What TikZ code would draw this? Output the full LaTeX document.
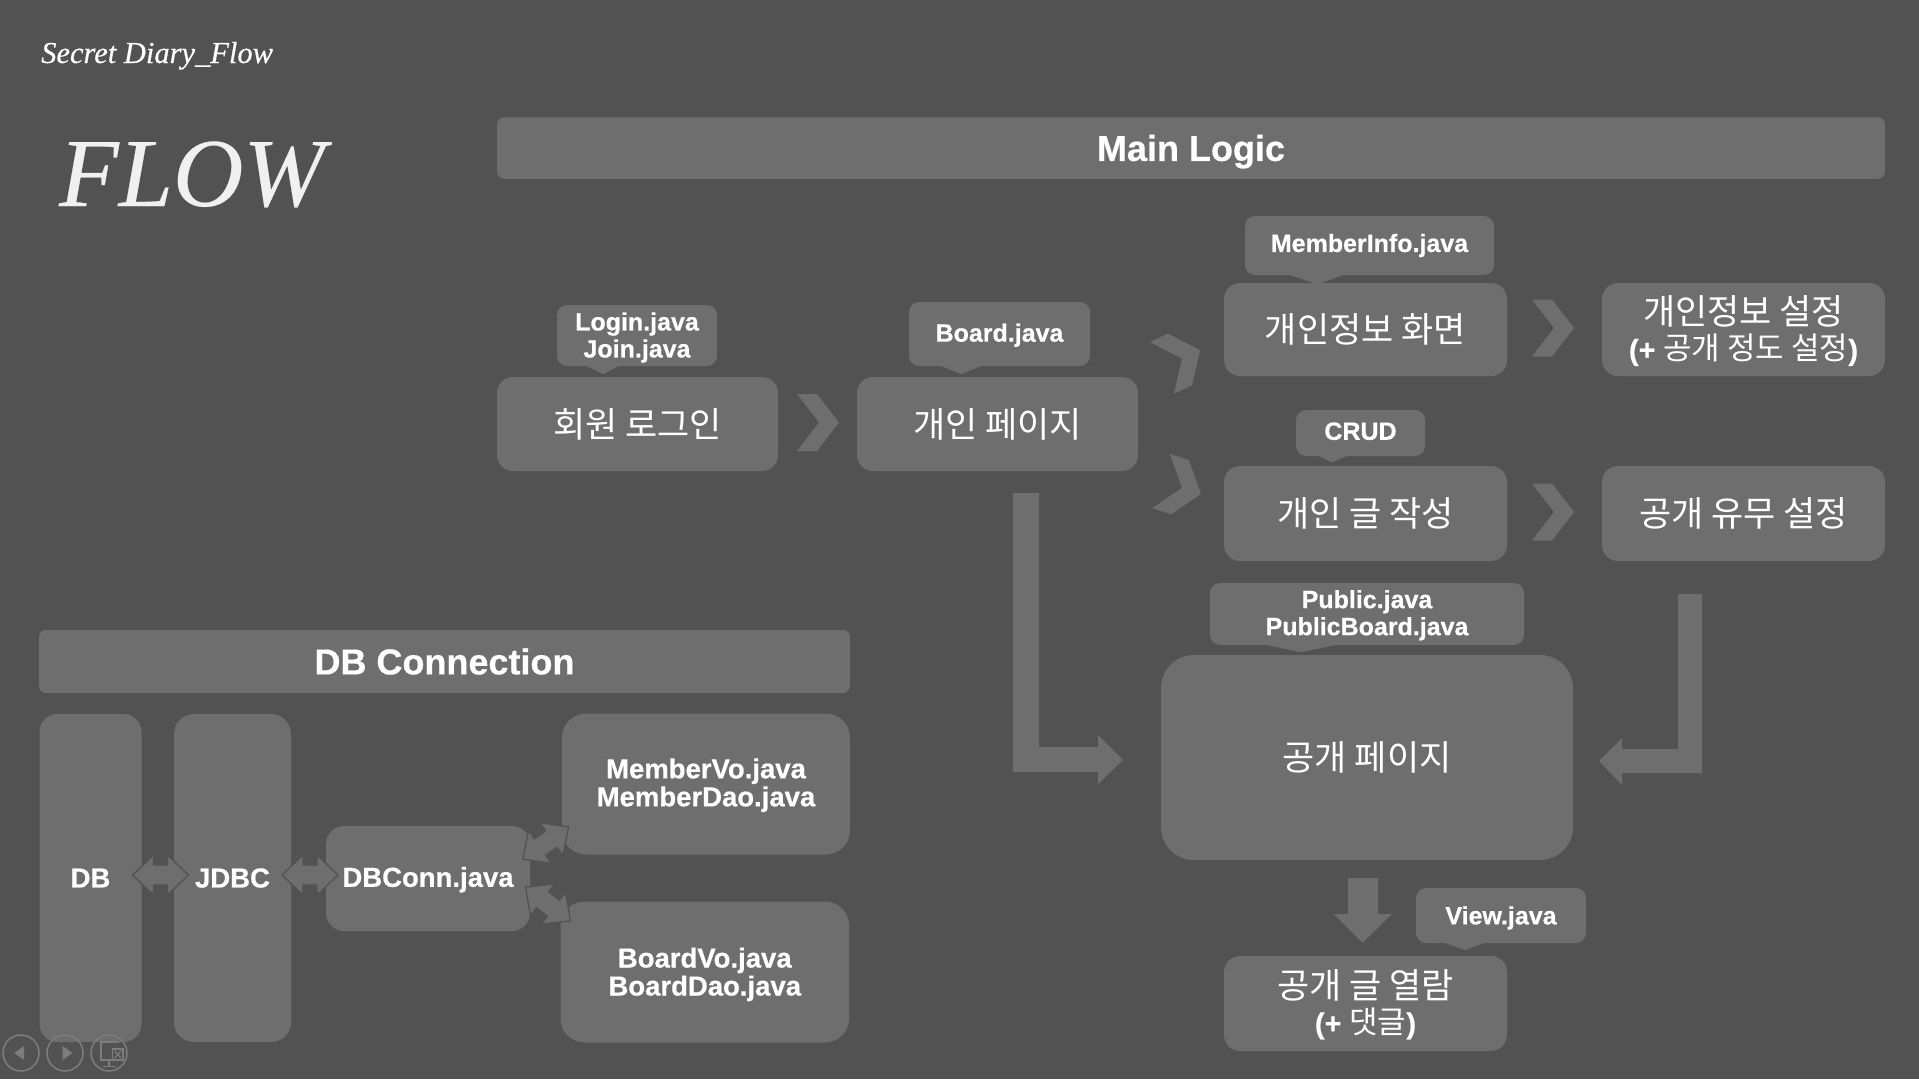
\documentclass[tikz,border=0pt]{standalone}
\usepackage{fontspec}
\setmainfont[BoldFeatures={FakeBold=0.5}]{Liberation Sans}
\newfontfamily\kofont{Noto Sans CJK KR}
\newfontfamily\latinbold[FakeBold=0.5]{Liberation Sans Bold}
\newfontfamily\titlefont[FakeBold=0.3]{Liberation Serif}
\definecolor{slide}{HTML}{525252}
\definecolor{block}{HTML}{6E6E6E}
\definecolor{icon}{HTML}{7D7D7D}
\newcommand{\fsize}[2]{\fontsize{#1pt}{#2pt}\selectfont}
\newcommand{\plus}[1]{{\latinbold\fsize{29}{30}#1}}
\tikzstyle{flowbox}=[fill=block,inner sep=0pt]
\tikzstyle{boxtext}=[inner sep=0pt,align=center,text=white]
\tikzstyle{steptext}=[boxtext,font=\kofont\fsize{35}{38}]
\tikzstyle{notetext}=[boxtext,font=\bfseries\fsize{25}{27}]
\tikzstyle{dbtext}=[boxtext,font=\bfseries\fsize{27.5}{28}]
\tikzstyle{bartext}=[boxtext,font=\bfseries\fsize{36}{40}]
\tikzstyle{linkarrow}=[draw=slide,fill=block,line width=1.3pt,line join=miter]
\tikzstyle{blockshape}=[fill=block]
\tikzstyle{navicon}=[draw=icon,line width=1.5pt]

\begin{document}
\begin{tikzpicture}[x=1pt,y=-1pt]
    \useasboundingbox (0,0) rectangle (1919,1079);
    \fill[slide] (0,0) rectangle (1919,1079);
    % Titles
    \node[inner sep=0pt,anchor=base west,text=white,font=\titlefont\itshape\fsize{30.5}{30}] (slidename) at (41,63) {Secret Diary\_Flow};
    \node[inner sep=0pt,anchor=base west,text=gray!12,font=\titlefont\itshape\fsize{97.5}{98}] (flowname) at (59,206) {FLOW};
    % First we draw the bars and the boxes
    \foreach \pos/\name/\w/\h/\dn/\la in {{(1191,148)/mainbar/1388/61.5/3.7/Main Logic}, {(444.5,661.5)/dbbar/811/63/0/DB Connection}}
          \node[flowbox,rounded corners=7pt,minimum width=\w pt,minimum height=\h pt,label={[bartext,yshift=-\dn pt]center:\la}] (\name) at \pos {};
    \foreach \pos/\name/\w/\h/\dn/\la in {{(637.5,424)/login/281/94/0/회원 로그인}, {(997.5,424)/mypage/281/94/0/개인 페이지},
          {(1365.5,329.5)/info/283/93/0/개인정보 화면}, {(1743.5,329.5)/infoset/283/93/1.5/개인정보 설정\\[-3pt]\plus{(+} {\fsize{31}{30}공개 정도 설정}\plus{)}},
          {(1365.5,513.5)/write/283/95/0/개인 글 작성}, {(1743.5,513.5)/openset/283/95/0/공개 유무 설정},
          {(1365.5,1003.5)/view/283/95/1/공개 글 열람\\[-3pt]\plus{(+} {\fsize{31}{30}댓글}\plus{)}}}
          \node[flowbox,rounded corners=16pt,minimum width=\w pt,minimum height=\h pt,label={[steptext,yshift=-\dn pt]center:\la}] (\name) at \pos {};
    \node[flowbox,rounded corners=33pt,minimum width=412pt,minimum height=205pt,label={[steptext]center:공개 페이지}] (public) at (1367,757.5) {};
    % The boxes with the file names, each with its small tip
    \foreach \pos/\name/\w/\h/\dn/\la in {{(637,335.5)/loginnote/160/61/2/Login.java\\Join.java}, {(999.5,334)/boardnote/181/64/1.2/Board.java},
          {(1369.5,245.5)/infonote/249/59/0/MemberInfo.java}, {(1360.5,433)/crudnote/129/46/-1.8/CRUD},
          {(1367,614)/publicnote/314/62/1.2/Public.java\\PublicBoard.java}, {(1501,915.5)/viewnote/170/55/2.4/View.java}}
          \node[flowbox,rounded corners=10pt,minimum width=\w pt,minimum height=\h pt,label={[notetext,yshift=-\dn pt]center:\la}] (\name) at \pos {};
    \foreach \name/\l/\t/\r/\d in {loginnote/-52/-34/-17/8, boardnote/-60.5/-38.5/-16.5/8, infonote/-81.5/-52.5/-23.5/9,
          crudnote/-44.5/-28.5/-11.5/6, publicnote/-104/-66/-28/7, viewnote/-58/-36/-15/7}
          \path[blockshape] ([xshift=\l pt,yshift=1pt]\name.south) -- ([xshift=\t pt,yshift=-\d pt]\name.south) -- ([xshift=\r pt,yshift=1pt]\name.south) -- cycle;
    % DB part
    \foreach \pos/\name/\w/\h/\r/\dn/\la in {{(90.5,878)/db/102/328/18/0/DB}, {(232.5,878)/jdbc/117/328/20/0/JDBC}, {(428,878.5)/dbconn/204/105/18/1.2/DBConn.java},
          {(706,784)/membervo/288/141/24/1.2/MemberVo.java\\MemberDao.java}, {(704.75,972)/boardvo/288.5/141/24/2.4/BoardVo.java\\BoardDao.java}}
          \node[flowbox,rounded corners=\r pt,minimum width=\w pt,minimum height=\h pt,label={[dbtext,yshift=-\dn pt]center:\la}] (\name) at \pos {};
    % Double arrows between the DB boxes
    \foreach \pos/\rot in {{(160.5,875)/0}, {(310,875)/0}, {(545.7,843)/35}, {(548,904)/-37}}
          \path[linkarrow,shift={\pos},rotate=\rot] (-28,0) -- (-7,-20) -- (-7,-10) -- (7,-10) -- (7,-20) -- (28,0) -- (7,20) -- (7,10) -- (-7,10) -- (-7,20) -- cycle;
    % Chevrons between the steps
    \foreach \pos/\rot in {{(818,422.5)/0}, {(1553,328)/0}, {(1553,512)/0}, {(1181,359)/25}, {(1181,487.5)/-18}}
          \path[blockshape,shift={\pos},rotate=\rot] (-21,-28.5) -- (-1,-28.5) -- (21,0) -- (-1,28.5) -- (-21,28.5) -- (1,0) -- cycle;
    % Big bent arrows and the one going down
    \path[blockshape] (1013,493) -- (1039,493) -- (1039,747) -- (1098,747) -- (1098,735) -- (1123,760) -- (1098,784) -- (1098,772) -- (1013,772) -- cycle;
    \path[blockshape] (1702,594) -- (1678,594) -- (1678,749) -- (1622,749) -- (1622,738) -- (1599,761) -- (1622,785) -- (1622,773) -- (1702,773) -- cycle;
    \path[blockshape] (1348,878) -- (1378,878) -- (1378,914) -- (1392,914) -- (1362.5,943) -- (1333.5,914) -- (1348,914) -- cycle;
    % Slide show buttons
    \foreach \x in {21,65,109}
          \draw[navicon] (\x,1053) circle (18);
    \fill[icon] (14.3,1053) -- (24,1046) -- (24,1060) -- cycle;
    \fill[icon] (72.3,1053) -- (62.7,1046) -- (62.7,1060) -- cycle;
    \draw[navicon] (100,1042) -- (119,1042) (101,1042) -- (101,1060) -- (112,1060) (109,1060) -- (109,1066) (103,1066.5) -- (116,1066.5);
    \draw[navicon,fill=slide] (112.5,1049) rectangle (123,1060);
    \draw[icon,line width=1.2pt] (114.5,1051) -- (121,1058) (121,1051) -- (114.5,1058);
\end{tikzpicture}
\end{document}
